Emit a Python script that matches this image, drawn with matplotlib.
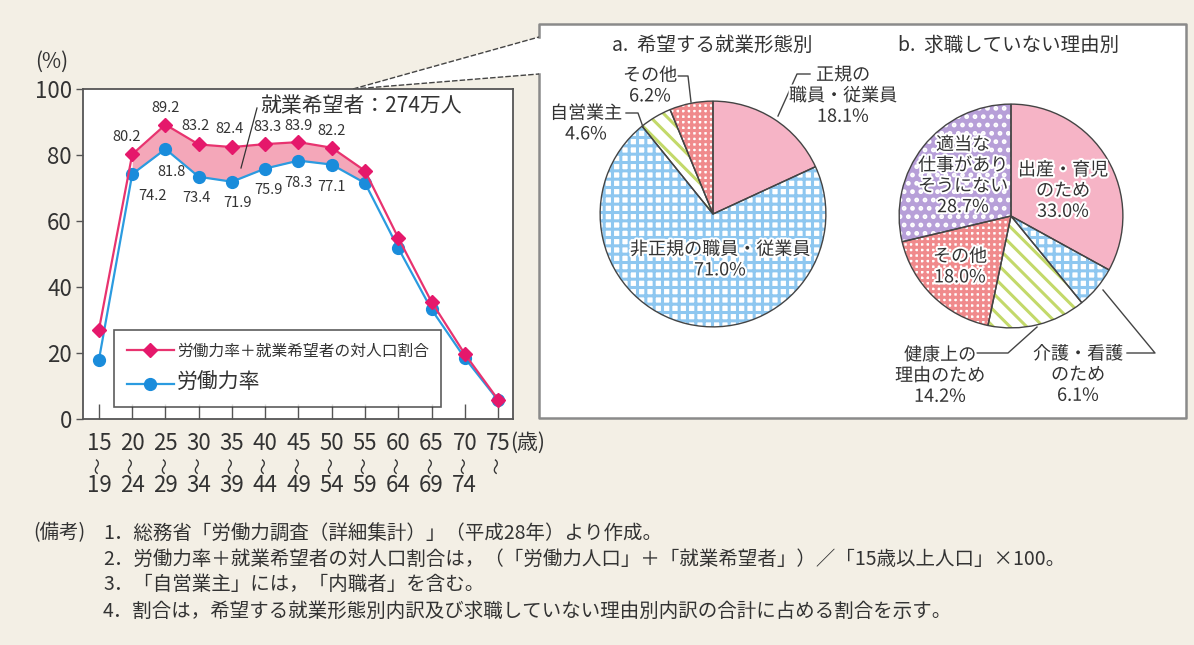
import matplotlib
matplotlib.use('Agg')
import matplotlib.pyplot as plt
import matplotlib.patheffects as pe
from matplotlib.patches import Rectangle, Polygon
import numpy as np

plt.rcParams['font.family'] = ['Noto Sans CJK JP', 'DejaVu Sans']
plt.rcParams['hatch.linewidth'] = 2.2
plt.rcParams['hatch.color'] = 'white'

W, H = 1194, 645
BG = '#f3efe5'
TXT = '#333333'

# ---- data ----
age_lo = ['15', '20', '25', '30', '35', '40', '45', '50', '55', '60', '65', '70', '75']
age_hi = ['19', '24', '29', '34', '39', '44', '49', '54', '59', '64', '69', '74', '']
lf_plus = [27.1, 80.2, 89.2, 83.2, 82.4, 83.3, 83.9, 82.2, 75.2, 54.9, 35.5, 19.7, 5.9]
lf_rate = [18.0, 74.2, 81.8, 73.4, 71.9, 75.9, 78.3, 77.1, 71.5, 51.8, 33.2, 18.5, 5.7]
labeled = [1, 2, 3, 4, 5, 6, 7]

type_labels = ['正規の\n職員・従業員', '非正規の職員・従業員', '自営業主', 'その他']
type_share = [18.1, 71.0, 4.6, 6.2]
reason_labels = ['出産・育児\nのため', '介護・看護\nのため', '健康上の\n理由のため', 'その他',
                 '適当な\n仕事があり\nそうにない']
reason_share = [33.0, 6.1, 14.2, 18.0, 28.7]

notes = ['1．総務省「労働力調査（詳細集計）」（平成28年）より作成。',
         '2．労働力率＋就業希望者の対人口割合は，（「労働力人口」＋「就業希望者」）／「15歳以上人口」×100。',
         '3．「自営業主」には，「内職者」を含む。',
         '4．割合は，希望する就業形態別内訳及び求職していない理由別内訳の合計に占める割合を示す。']


def fr(x0, y0, x1, y1):
    return [x0 / W, 1 - y1 / H, (x1 - x0) / W, (y1 - y0) / H]


fig = plt.figure(figsize=(W / 100, H / 100), dpi=100, facecolor=BG)

# background layer (pixel coords)
bg = fig.add_axes([0, 0, 1, 1], zorder=-1)
bg.set_xlim(0, W)
bg.set_ylim(H, 0)
bg.axis('off')
bg.add_patch(Rectangle((539, 24), 647, 394, facecolor='white', edgecolor='none'))
bg.add_patch(Polygon([(353, 89), (539, 37), (539, 74)], facecolor='white', edgecolor='none'))
bg.plot([539, 539, 1186, 1186, 539, 539], [37, 24, 24, 418, 418, 74], color='#8a8a8a', lw=1.8)
bg.plot([353, 539], [89, 37], color='#444444', lw=1, ls=(0, (4, 1.5)))
bg.plot([353, 539], [89, 74], color='#444444', lw=1, ls=(0, (4, 1.5)))

# ---- line chart ----
ax = fig.add_axes(fr(83, 89, 513, 419), zorder=1)
ax.set_facecolor('white')
x = np.arange(len(age_lo))
ax.fill_between(x[1:9], lf_rate[1:9], lf_plus[1:9], color='#f4a7b9', lw=0, zorder=1)
l_rate, = ax.plot(x, lf_rate, color='#2b9be0', lw=1.6, marker='o', ms=8.5,
                  mfc='#1a8cdb', mec='#1a8cdb', label='労働力率', zorder=3)
l_plus, = ax.plot(x, lf_plus, color='#e8336f', lw=1.6, marker='D', ms=7.5,
                  mfc='#e5186b', mec='#e5186b', label='労働力率＋就業希望者の対人口割合', zorder=4)

plus_off = [(-6, 17), (0, 17), (-3, 18), (-2, 18), (2, 17), (0, 16), (0, 17)]
rate_off = [(20, -22), (6, -23), (-2, -21), (6, -21), (3, -21), (0, -22), (0, -22)]
for k, i in enumerate(labeled):
    ax.annotate(f'{lf_plus[i]:.1f}', (x[i], lf_plus[i]), xytext=plus_off[k],
                textcoords='offset pixels', ha='center', va='center', fontsize=10.5, color=TXT, zorder=5)
    ax.annotate(f'{lf_rate[i]:.1f}', (x[i], lf_rate[i]), xytext=rate_off[k],
                textcoords='offset pixels', ha='center', va='center', fontsize=10.5, color=TXT, zorder=5)

ax.set_xlim(-0.48, 12.45)
ax.set_ylim(0, 100)
ax.set_yticks(range(0, 101, 20))
ax.tick_params(axis='y', direction='out', length=5, width=1, pad=3, labelsize=16,
               colors='#555555', labelcolor=TXT)
ax.set_xticks(x)
ax.set_xticklabels(age_lo)
ax.tick_params(axis='x', direction='in', length=11, width=1, pad=9, labelsize=16,
               colors='#555555', labelcolor=TXT)
xt = ax.get_xaxis_transform()
for xi, hi in zip(x, age_hi):
    ax.text(xi, -0.14, '〜', transform=xt, rotation=90, fontsize=12, ha='center', va='center',
            color=TXT, clip_on=False)
    if hi:
        ax.text(xi, -0.203, hi, transform=xt, fontsize=16, ha='center', va='center',
                color=TXT, clip_on=False)
for s in ax.spines.values():
    s.set_color('#555555')
    s.set_linewidth(1.3)

leg = ax.legend(handles=[l_plus, l_rate], loc='upper left', bbox_to_anchor=(0.072, 0.27),
                borderaxespad=0, fontsize=11.3, fancybox=False, edgecolor='#333333',
                handlelength=3.0, handletextpad=0.2, borderpad=0.8, labelspacing=0.8)
leg.get_frame().set_linewidth(1.2)
leg.get_texts()[1].set_fontsize(15)
for t in leg.get_texts():
    t.set_color(TXT)

# ---- pies ----
def draw_pie(rect, values, styles):
    pa = fig.add_axes(rect, zorder=2)
    wedges, _ = pa.pie(values, startangle=90, counterclock=False, radius=1,
                       colors=[s[0] for s in styles], wedgeprops=dict(linewidth=0))
    for w, (face, hatch, hc) in zip(wedges, styles):
        if hatch:
            w.set_edgecolor(hc)
            w.set_hatch(hatch)
            if hasattr(w, 'set_hatchcolor'):
                w.set_hatchcolor(hc)
    pa.pie(values, startangle=90, counterclock=False, radius=1,
           wedgeprops=dict(fill=False, edgecolor='#444444', linewidth=1.0))
    pa.set_xlim(-1.01, 1.01)
    pa.set_ylim(-1.01, 1.01)
    pa.set_aspect('equal')
    pa.axis('off')
    return pa

PINK = ('#f6b4c6', None, None)
BLUE = ('white', '++', '#8ec7f0')
GREEN = ('white', '\\\\', '#c3d96a')
SALMON = ('white', '+++', '#f08a8c')
PURPLE = ('#b79fd8', '..', 'white')

draw_pie(fr(599, 100, 827, 328), type_share, [PINK, BLUE, GREEN, SALMON])
draw_pie(fr(898, 103, 1124, 329), reason_share, [PINK, BLUE, GREEN, SALMON, PURPLE])

# ---- overlay texts ----
ov = fig.add_axes([0, 0, 1, 1], zorder=5)
ov.set_xlim(0, W)
ov.set_ylim(H, 0)
ov.axis('off')
halo = [pe.withStroke(linewidth=3, foreground='white')]

ov.text(52, 62, '(%)', fontsize=15, ha='center', va='center', color=TXT)
ov.text(510, 443, '(歳)', fontsize=15, ha='left', va='center', color=TXT)
ov.text(260, 106, '就業希望者：274万人', fontsize=15, ha='left', va='center', color=TXT)
ov.plot([257, 241], [108, 168], color='#333333', lw=0.9)

ov.text(712, 45, 'a.  希望する就業形態別', fontsize=14, ha='center', va='center', color=TXT)
ov.text(1009, 45, 'b.  求職していない理由別', fontsize=14, ha='center', va='center', color=TXT)

# pie a labels
type_pos = [(843, 96), (720, 260), (586, 124), (650, 86)]
for lab, v, (px, py) in zip(type_labels, type_share, type_pos):
    t = ov.text(px, py, f'{lab}\n{v:.1f}%', fontsize=13, ha='center', va='center',
                color=TXT, linespacing=1.2)
    t.set_path_effects(halo)
ov.plot([778, 797, 810], [116, 74, 74], color='#444444', lw=1)
ov.plot([677, 688, 691], [76, 76, 102], color='#444444', lw=1)
ov.plot([626, 638, 643], [113, 113, 127], color='#444444', lw=1)

# pie b labels
reason_pos = [(1063, 191), (1078, 375), (940, 376), (960, 267), (963, 176)]
for lab, v, (px, py) in zip(reason_labels, reason_share, reason_pos):
    t = ov.text(px, py, f'{lab}\n{v:.1f}%', fontsize=13, ha='center', va='center',
                color=TXT, linespacing=1.2)
    t.set_path_effects(halo)
ov.plot([970, 1008, 1037], [353, 353, 327], color='#444444', lw=1)
ov.plot([1127, 1155, 1103], [353, 353, 290], color='#444444', lw=1)

# notes
ov.text(33, 533, '(備考)', fontsize=14, ha='left', va='center', color=TXT)
for k, n in enumerate(notes):
    ov.text(103, 533 + 26 * k, n, fontsize=14, ha='left', va='center', color=TXT)

fig.savefig('out.png', dpi=100, facecolor=BG)
